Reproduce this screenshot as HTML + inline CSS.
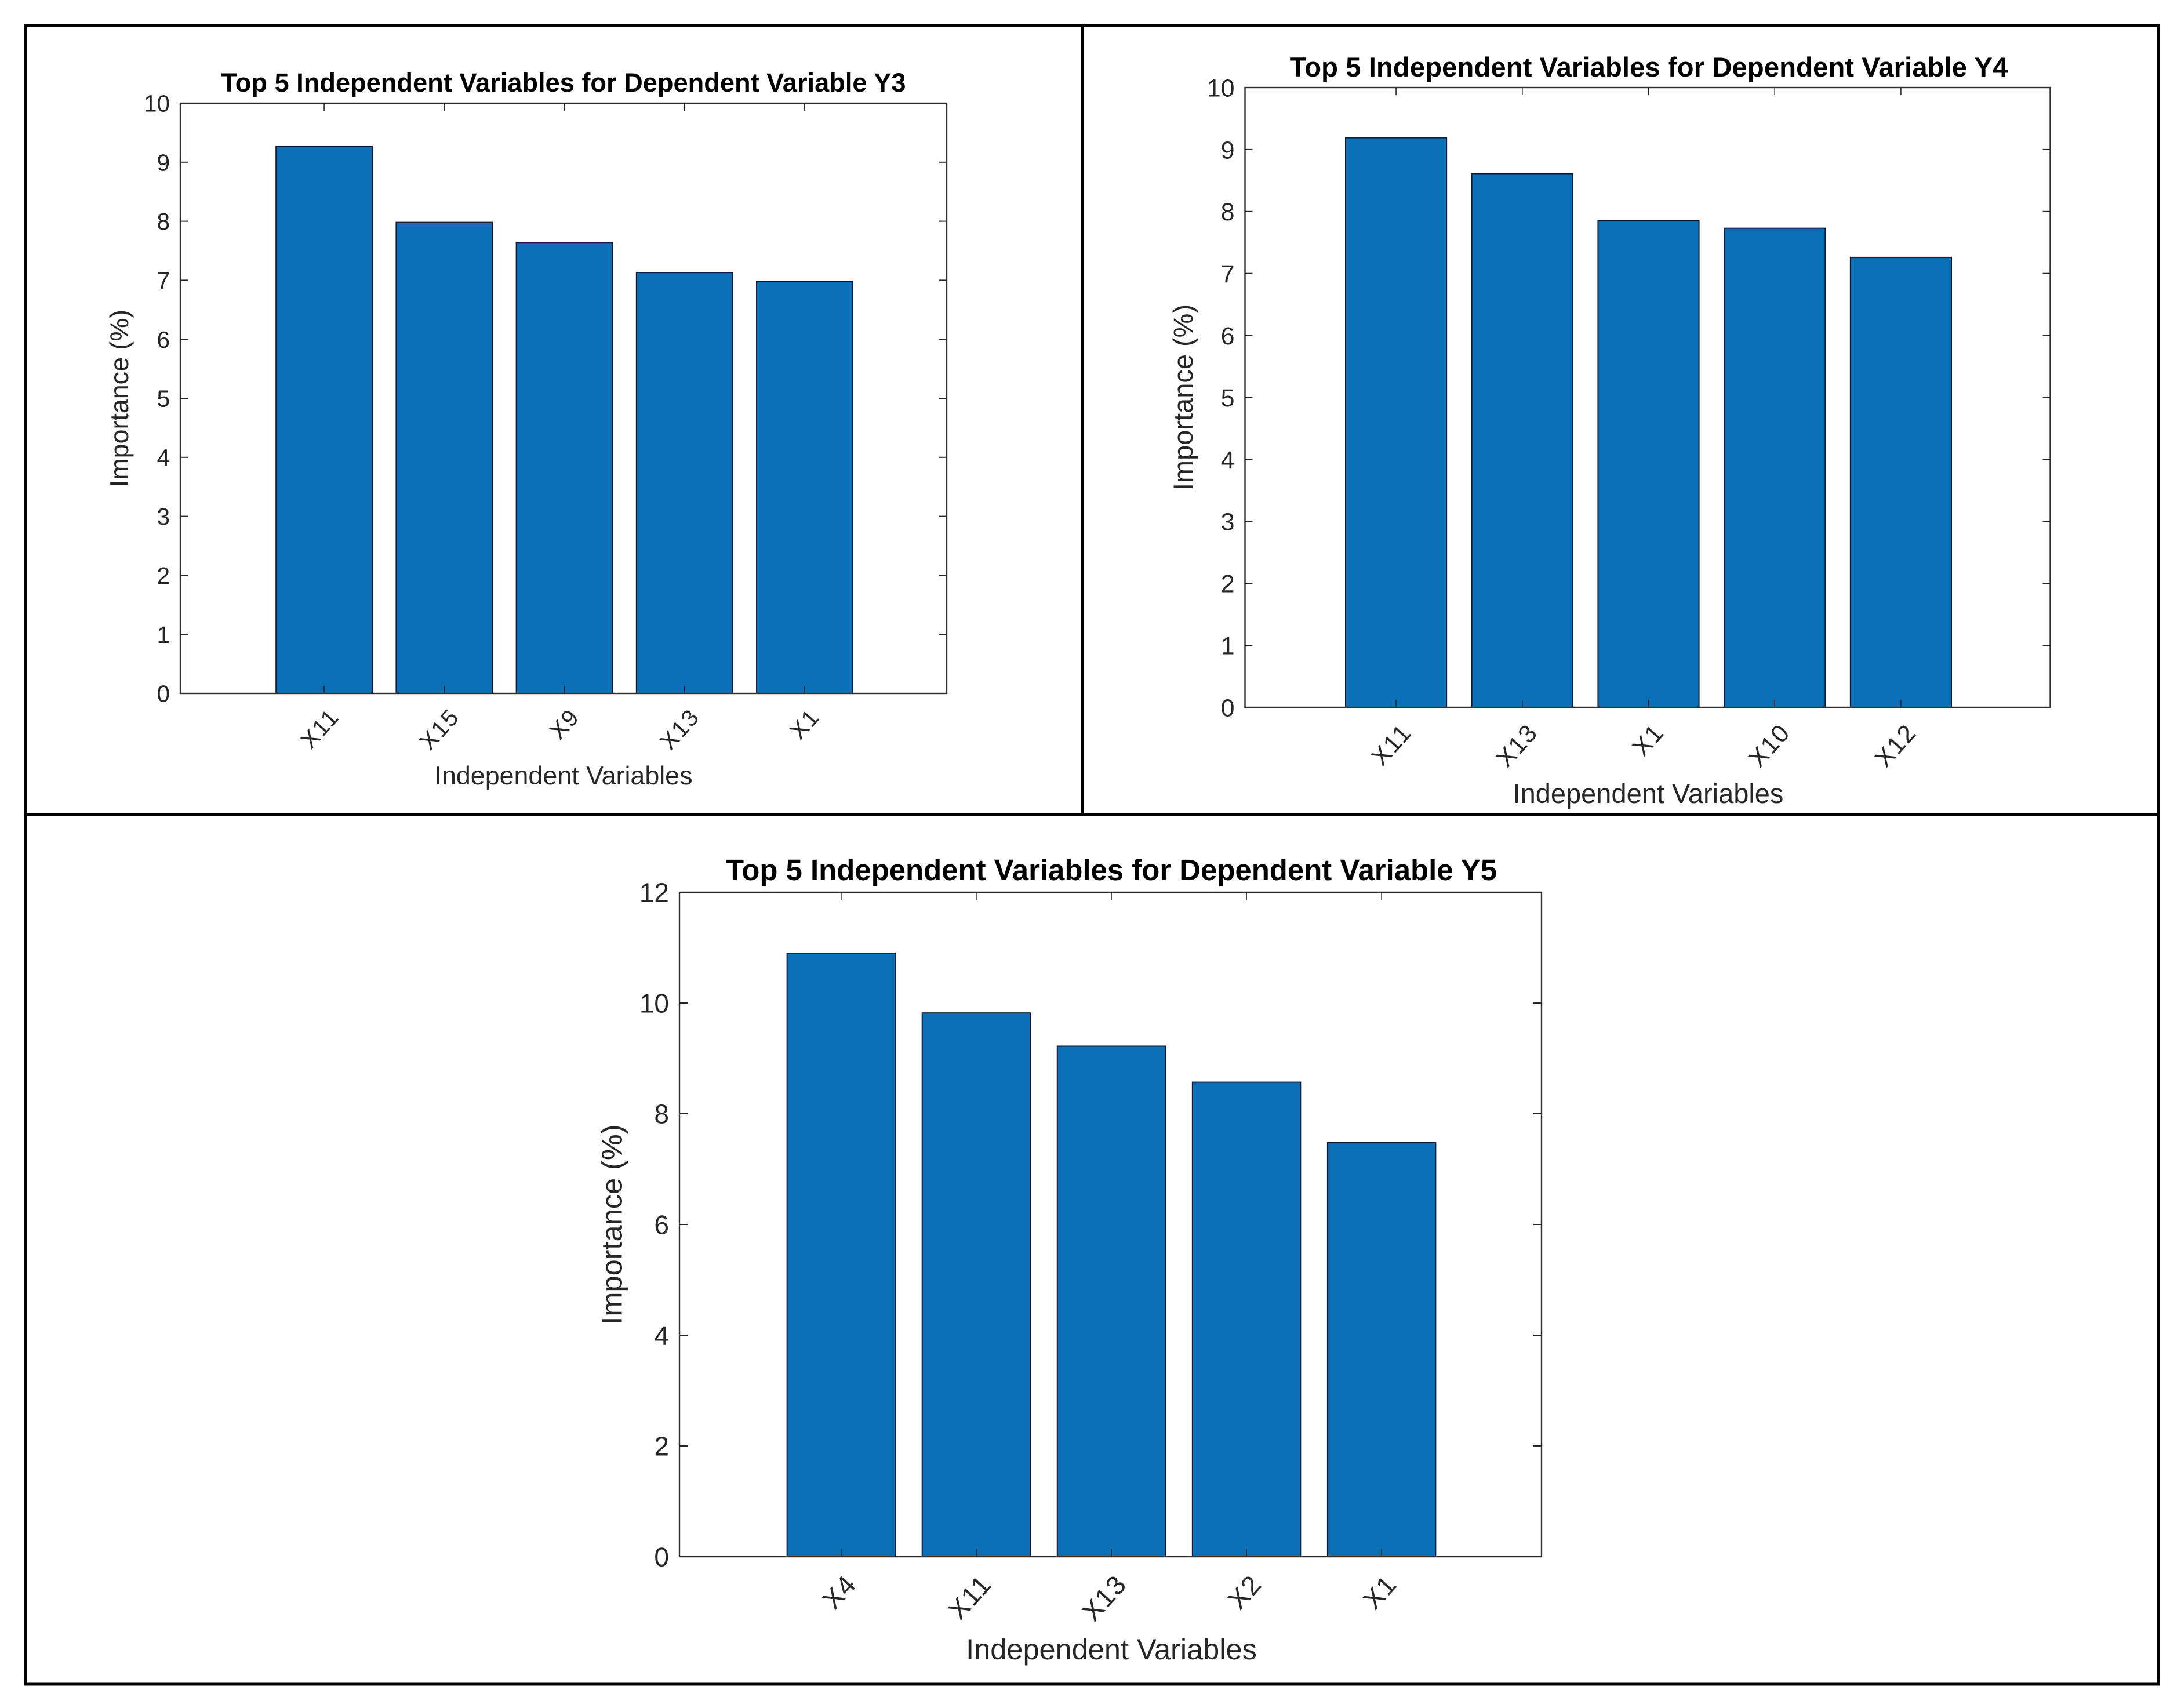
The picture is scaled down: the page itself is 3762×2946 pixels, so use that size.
<!DOCTYPE html>
<html lang="en">
<head>
<meta charset="utf-8">
<title>Top 5 Independent Variables</title>
<style>
html,body{margin:0;padding:0;background:#fff;}
svg{display:block;}
text{font-family:"Liberation Sans",Arial,sans-serif;}
</style>
</head>
<body>
<svg id="figure" xmlns="http://www.w3.org/2000/svg" width="3762" height="2946" viewBox="0 0 3762 2946">
  <rect x="0" y="0" width="3762" height="2946" fill="#ffffff"/>
  <rect x="43.5" y="43.5" width="3680" height="2861.5" fill="none" stroke="#000" stroke-width="5"/>
  <line x1="43.5" y1="1405" x2="3723.5" y2="1405" stroke="#000" stroke-width="5"/>
  <line x1="1867" y1="43.5" x2="1867" y2="1405" stroke="#000" stroke-width="4.5"/>
</svg>
<script>
// Chart data
const categoriesY3 = ['X11', 'X15', 'X9', 'X13', 'X1'];
const valuesY3 = [9.27, 7.98, 7.64, 7.13, 6.98];
const yTicksY3 = [0, 1, 2, 3, 4, 5, 6, 7, 8, 9, 10];

const categoriesY4 = ['X11', 'X13', 'X1', 'X10', 'X12'];
const valuesY4 = [9.19, 8.61, 7.85, 7.73, 7.26];
const yTicksY4 = [0, 1, 2, 3, 4, 5, 6, 7, 8, 9, 10];

const categoriesY5 = ['X4', 'X11', 'X13', 'X2', 'X1'];
const valuesY5 = [10.9, 9.82, 9.22, 8.57, 7.48];
const yTicksY5 = [0, 2, 4, 6, 8, 10, 12];

const titleY3 = 'Top 5 Independent Variables for Dependent Variable Y3';
const titleY4 = 'Top 5 Independent Variables for Dependent Variable Y4';
const titleY5 = 'Top 5 Independent Variables for Dependent Variable Y5';
const xAxisTitle = 'Independent Variables';
const yAxisTitle = 'Importance (%)';

const SVG_NS = 'http://www.w3.org/2000/svg';
const figure = document.getElementById('figure');

function mk(tag, attrs, parent, text) {
  const el = document.createElementNS(SVG_NS, tag);
  for (const k in attrs) el.setAttribute(k, attrs[k]);
  if (text !== undefined) el.textContent = text;
  parent.appendChild(el);
  return el;
}

function drawChart(cfg) {
  const { id, categories, values, yTicks, title, box } = cfg;
  const { left, right, top, bottom, font, titleFont, labelFont, tickLen, titleY, titleX, xLabelY, yLabelX, xLabelX, tickDx, tickDy } = box;

  const group = mk('g', {}, figure);
  
  

  const yMax = yTicks[yTicks.length - 1];
  const xDomainMin = -0.19;
  const xDomainMax = categories.length + 1.19;
  const xScale = v => left + 1.5 + (v - xDomainMin) / (xDomainMax - xDomainMin) * (right - left);
  const yScale = v => bottom - (v / yMax) * (bottom - top);
  const barWidth = (xScale(1) - xScale(0)) * 0.8;

  // bars
  values.forEach((value, i) => {
    const cx = xScale(i + 1);
    const y = yScale(value);
    const bar = mk('rect', {
      x: cx - barWidth / 2, y: y, width: barWidth, height: yScale(0) - y,
      fill: '#0a71b9', stroke: '#101c38', 'stroke-width': 2
    }, group);
    
    
  });

  // axes box
  const axisColor = '#303030';
  const frame = mk('rect', {
    x: left, y: top, width: right - left, height: bottom - top,
    fill: 'none', stroke: axisColor, 'stroke-width': 2.4
  }, group);
  
  

  // x ticks & labels
  categories.forEach((cat, i) => {
    const x = xScale(i + 1);
    const tickBottom = mk('line', { x1: x, x2: x, y1: bottom, y2: bottom - tickLen, stroke: '#262626', 'stroke-width': 1.6 }, group);
    
    
    const tickTop = mk('line', { x1: x, x2: x, y1: top, y2: top + tickLen, stroke: '#262626', 'stroke-width': 1.6 }, group);
    
    
    const lx = x + tickDx, ly = bottom + tickDy;
    const label = mk('text', {
      x: 0, y: 0, 'font-size': font, fill: '#262626', 'text-anchor': 'end', 'letter-spacing': 2,
      transform: 'translate(' + lx + ' ' + ly + ') rotate(-48)'
    }, group, cat);
    
    
  });

  // y ticks & labels
  yTicks.forEach(t => {
    const y = yScale(t);
    if (t !== 0 && t !== yMax) {
      const tl = mk('line', { x1: left, x2: left + tickLen, y1: y, y2: y, stroke: '#262626', 'stroke-width': 2 }, group);
      
      
      const tr = mk('line', { x1: right, x2: right - tickLen, y1: y, y2: y, stroke: '#262626', 'stroke-width': 2 }, group);
      
      
    }
    const label = mk('text', {
      x: left - 18, y: y + font * 0.36, 'font-size': font, fill: '#262626', 'text-anchor': 'end'
    }, group, String(t));
    
    
  });

  // titles
  const titleEl = mk('text', {
    x: titleX, y: titleY, 'font-size': titleFont, 'font-weight': 'bold', fill: '#000', 'text-anchor': 'middle'
  }, group, title);
  
  

  const xLab = mk('text', {
    x: xLabelX, y: xLabelY, 'font-size': labelFont, fill: '#262626', 'text-anchor': 'middle'
  }, group, xAxisTitle);
  
  

  const yLab = mk('text', {
    x: 0, y: 0, 'font-size': labelFont, fill: '#262626', 'text-anchor': 'middle',
    transform: 'translate(' + yLabelX + ' ' + ((top + bottom) / 2) + ') rotate(-90)'
  }, group, yAxisTitle);
  
  
}

drawChart({
  id: 'y3', categories: categoriesY3, values: valuesY3, yTicks: yTicksY3, title: titleY3,
  box: { left: 311, right: 1633, top: 178, bottom: 1196, font: 40.5, titleFont: 45.2, labelFont: 44.8, tickLen: 13,
         titleX: 972, titleY: 158, xLabelX: 972, xLabelY: 1353, yLabelX: 221, tickDx: 28, tickDy: 42 }
});
drawChart({
  id: 'y4', categories: categoriesY4, values: valuesY4, yTicks: yTicksY4, title: titleY4,
  box: { left: 2147.5, right: 3536.5, top: 151, bottom: 1220, font: 42.7, titleFont: 47.4, labelFont: 47, tickLen: 13,
         titleX: 2844, titleY: 132, xLabelX: 2843, xLabelY: 1385, yLabelX: 2057, tickDx: 29, tickDy: 45 }
});
drawChart({
  id: 'y5', categories: categoriesY5, values: valuesY5, yTicks: yTicksY5, title: titleY5,
  box: { left: 1172, right: 2659, top: 1539, bottom: 2685, font: 46, titleFont: 50.9, labelFont: 50.5, tickLen: 14,
         titleX: 1917, titleY: 1518, xLabelX: 1917, xLabelY: 2862, yLabelX: 1072.7, tickDx: 29, tickDy: 49 }
});
</script>
</body>
</html>
